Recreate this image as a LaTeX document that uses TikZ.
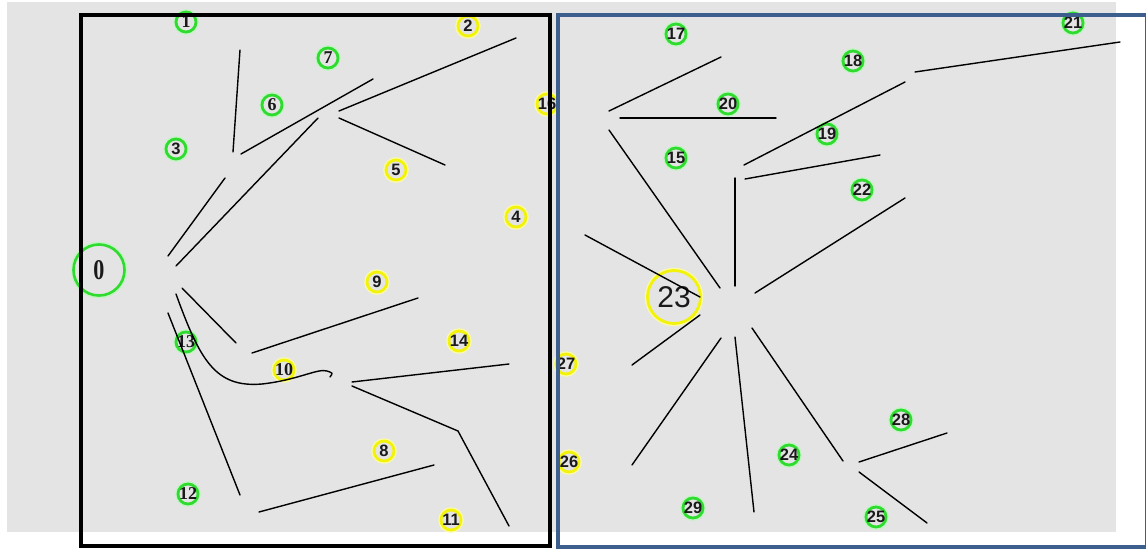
\documentclass[tikz,border=0pt]{standalone}
\usepackage{fontspec}
\setmainfont{Liberation Serif}
\setsansfont{Liberation Sans}
\definecolor{bg}{HTML}{E4E4E4}
\definecolor{ringgreen}{HTML}{2EDB2E}
\definecolor{ringyellow}{HTML}{F2F20A}
\definecolor{boxblue}{HTML}{3D5F8E}
\definecolor{txt}{HTML}{1A1A1A}
\tikzset{
  nd/.style={circle, inner sep=0pt, minimum size=20pt, line width=2.8pt, fill=bg, text=txt},
  gn/.style={nd, draw=ringgreen, preaction={draw=ringgreen!30, line width=5.5pt}},
  yn/.style={nd, draw=ringyellow, preaction={draw=ringyellow!35, line width=5.5pt}},
  sflab/.style={font=\sffamily\bfseries\fontsize{16.5}{16.5}\selectfont},
  rmlab/.style={font=\bfseries\fontsize{18}{18}\selectfont},
  seg/.style={line width=1.4pt, black, line cap=round},
}
\newcommand{\nd}[4]{\node[#4] (n#1) at (#2,#3) {\makebox[0pt]{#1}};}
\begin{document}
\begin{tikzpicture}[x=1pt,y=-1pt]
\useasboundingbox (0,0) rectangle (1146,549);
\fill[white] (0,0) rectangle (1146,549);
\fill[bg] (7,2) rectangle (1116,532);
% nodes
\node[gn, minimum size=51pt, line width=2.6pt, font=\bfseries\fontsize{26}{26}\selectfont] (n0) at (99,270) {\makebox[0pt]{\raisebox{-3pt}{\scalebox{0.85}[1.1]{0}}}};
\node[yn, minimum size=53pt, line width=2.8pt, font=\sffamily\fontsize{30}{30}\selectfont] (n23) at (674,297) {\makebox[0pt]{\raisebox{-2pt}{23}}};
\nd{1}{186}{22}{gn,rmlab}
\nd{2}{468}{26}{yn,sflab}
\nd{7}{328}{58}{gn,rmlab}
\nd{6}{272}{105}{gn,rmlab}
\nd{3}{176}{149}{gn,sflab}
\nd{16}{547}{104}{yn,sflab}
\nd{5}{396}{170}{yn,sflab}
\nd{4}{516}{217}{yn,sflab}
\nd{9}{377}{282}{yn,sflab}
\nd{14}{459}{341}{yn,sflab}
\nd{13}{186}{342}{gn,rmlab}
\nd{10}{284}{370}{yn,rmlab}
\nd{8}{384}{451}{yn,sflab}
\nd{12}{188}{494}{gn,rmlab}
\nd{11}{451}{520}{yn,sflab}
\nd{17}{676}{34}{gn,sflab}
\nd{21}{1073}{23}{gn,sflab}
\nd{18}{853}{61}{gn,sflab}
\nd{20}{728}{104}{gn,sflab}
\nd{19}{827}{134}{gn,sflab}
\nd{15}{676}{158}{gn,sflab}
\nd{22}{862}{190}{gn,sflab}
\nd{27}{566}{364}{yn,sflab}
\nd{26}{569}{462}{yn,sflab}
\nd{28}{901}{420}{gn,sflab}
\nd{24}{789}{455}{gn,sflab}
\nd{29}{693}{508}{gn,sflab}
\nd{25}{876}{517}{gn,sflab}
% segments left box
\draw[seg] (240,50) -- (233,152);
\draw[seg] (241,154) -- (373,79);
\draw[seg] (176,266) -- (318,118);
\draw[seg] (168,256) -- (225,178);
\draw[seg] (339,111) -- (516,38);
\draw[seg] (339,118) -- (445,165);
\draw[seg] (182,288) -- (236,343);
\draw[seg] (252,353) -- (418,298);
\draw[seg] (176,294) .. controls (200,360) and (215,388) .. (262,384) .. controls (298,380) and (318,368) .. (327,371) .. controls (333,373) .. (330,377);
\draw[seg] (168,313) -- (240,495);
\draw[seg] (259,512) -- (434,465);
\draw[seg] (352,382) -- (509,364);
\draw[seg] (352,386) -- (458,431) -- (509,526);
% segments right box
\draw[seg] (609,111) -- (721,57);
\draw[seg] (620,118) -- (776,118);
\draw[seg] (609,130) -- (720,288);
\draw[seg] (735,178) -- (735,286);
\draw[seg] (744,165) -- (905,82);
\draw[seg] (745,179) -- (880,155);
\draw[seg] (915,72) -- (1120,42);
\draw[seg] (755,293) -- (905,198);
\draw[seg] (585,235) -- (700,297);
\draw[seg] (632,365) -- (700,315);
\draw[seg] (632,465) -- (721,338);
\draw[seg] (735,337) -- (754,512);
\draw[seg] (752,328) -- (843,461);
\draw[seg] (859,462) -- (947,433);
\draw[seg] (859,472) -- (927,523);
% boxes
\draw[line width=4pt] (80.5,15) rectangle (550,545.5);
\draw[boxblue, line width=3.5pt] (558,15) rectangle (1146.5,547);
\end{tikzpicture}
\end{document}
